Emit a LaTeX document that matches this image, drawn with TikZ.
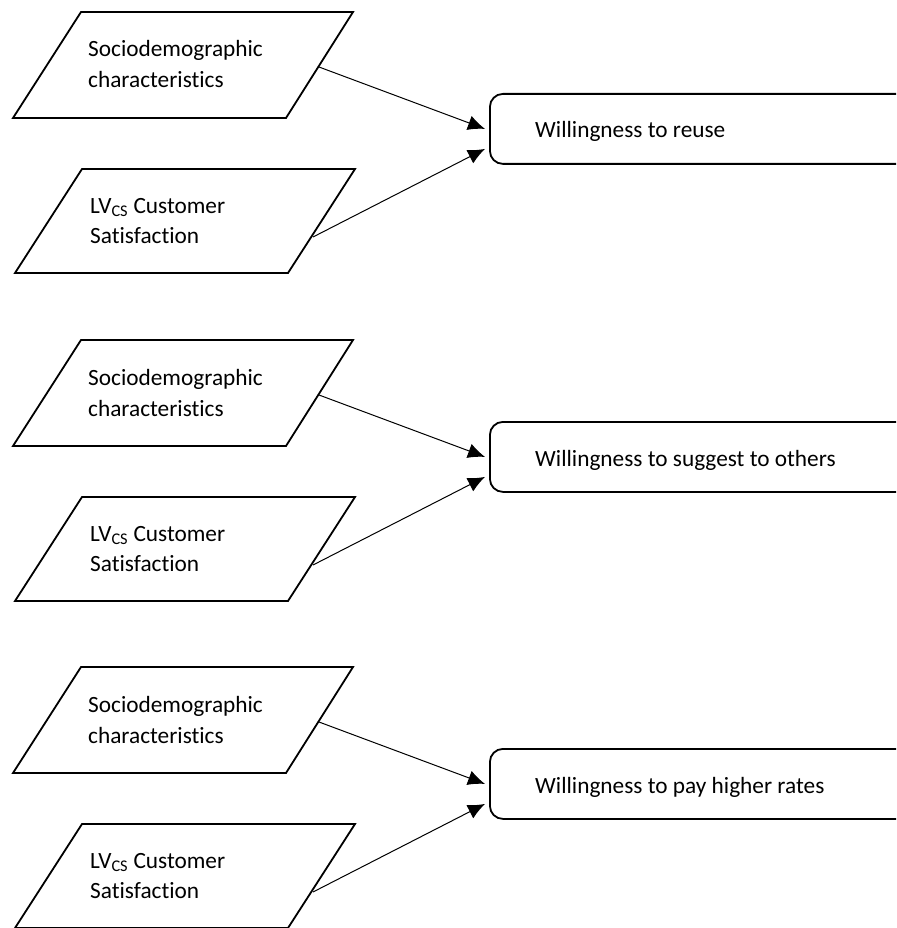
\documentclass[tikz,border=0pt]{standalone}
\usepackage{fontspec}
\setmainfont[Ligatures=NoCommon]{Carlito}
\usetikzlibrary{arrows.meta}
\begin{document}
\begin{tikzpicture}[x=1pt,y=-1pt,
  shapeline/.style={line width=1.8pt, line join=miter},
  txt/.style={anchor=base west, inner sep=0pt, font=\fontsize{23.3}{28}\selectfont},
  outbox/.style={draw, line width=1.8pt, rounded corners=13pt, anchor=north west,
    minimum width=600pt, minimum height=70pt, inner sep=0pt},
  link/.style={line width=1pt, -{Latex[length=17pt,width=15pt]}}]
\useasboundingbox (0,0) rectangle (896,928);
\clip (0,0) rectangle (896,928);
\foreach \o/\i/\t in {0/a/Willingness to reuse,
                      328/b/Willingness to suggest to others,
                      655/c/Willingness to pay higher rates} {
  % input: sociodemographic characteristics
  \draw[shapeline] (81,12+\o) -- (353,12+\o) -- (286,118+\o) -- (13,118+\o) -- cycle;
  \node[txt] (soc1\i) at (88,57+\o) {Sociodemographic};
  \node[txt] (soc2\i) at (88,88+\o) {characteristics};
  \coordinate (ssoc\i) at (319,67+\o);
  % input: customer satisfaction latent variable
  \draw[shapeline] (82,169+\o) -- (355,169+\o) -- (288,273+\o) -- (15,273+\o) -- cycle;
  \node[txt] (lv1\i) at (90,213+\o) {LV\textsubscript{CS} Customer};
  \node[txt] (lv2\i) at (90,243+\o) {Satisfaction};
  \coordinate (slv\i) at (313,237+\o);
  % outcome
  \node[outbox] (out\i) at (489,93+\o) {};
  \node[txt] (outt\i) at (535,138+\o) {\t};
  % links
  \draw[link] (ssoc\i) -- ([xshift=-4pt]out\i.west);
  \draw[link] (slv\i) -- ([xshift=-4pt,yshift=-20pt]out\i.west);
}
\end{tikzpicture}
\end{document}
